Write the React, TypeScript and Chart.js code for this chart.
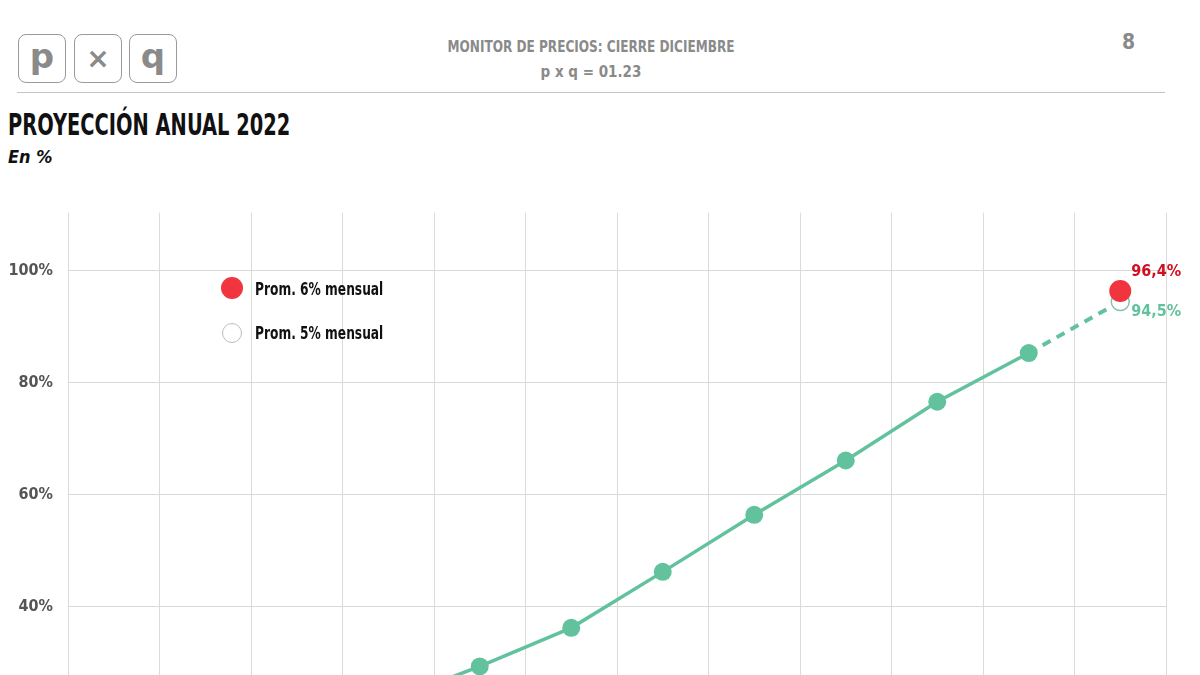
import React, { useEffect, useRef } from "react";
import { Chart, registerables } from "chart.js";

Chart.register(...registerables);

const months = ["Ene", "Feb", "Mar", "Abr", "May", "Jun", "Jul", "Ago", "Sep", "Oct", "Nov", "Dic"];
const actual = [3.9, 8.8, 16.1, 23.1, 29.3, 36.2, 46.2, 56.4, 66.1, 76.6, 85.3, null];
const proj5 = [null, null, null, null, null, null, null, null, null, null, 85.3, 94.5];
const proj6Point = [null, null, null, null, null, null, null, null, null, null, null, 96.4];
const proj5Point = [null, null, null, null, null, null, null, null, null, null, null, 94.5];
const yTicks = [40, 60, 80, 100];
const label6 = "96,4%";
const label5 = "94,5%";
const legendItems = ["Prom. 6% mensual", "Prom. 5% mensual"];

const GREEN = "#62c29d";
const RED = "#f0353f";
const COND = '"DejaVu Sans Condensed", "Liberation Sans Narrow", "DejaVu Sans", sans-serif';

const labelPlugin = {
  id: "endLabels",
  afterDatasetsDraw(chart: any) {
    const ctx = chart.ctx;
    const m6 = chart.getDatasetMeta(0);
    const m5 = chart.getDatasetMeta(1);
    const p6 = m6.data[11];
    const p5 = m5.data[11];
    ctx.save();
    ctx.font = "bold 16px " + COND;
    ctx.textAlign = "left";
    ctx.textBaseline = "middle";
    if (p6) {
      ctx.fillStyle = "#d0101e";
      ctx.fillText(label6, p6.x + 11, p6.y - 19);
    }
    if (p5) {
      ctx.fillStyle = GREEN;
      ctx.fillText(label5, p5.x + 11, p5.y + 10);
    }
    ctx.restore();
  },
};

function ChartBox() {
  const ref = useRef<HTMLCanvasElement>(null);
  useEffect(() => {
    if (!ref.current) return;
    const chart = new Chart(ref.current, {
      type: "line",
      data: {
        labels: months,
        datasets: [
          {
            data: proj6Point,
            borderColor: RED,
            backgroundColor: RED,
            pointRadius: 11,
            pointBorderWidth: 0,
            showLine: false,
            order: 0,
          } as any,
          {
            data: proj5Point,
            borderColor: "#8bbfae",
            backgroundColor: "#ffffff",
            pointRadius: 9,
            pointBorderWidth: 1.5,
            showLine: false,
            order: 1,
          },
          {
            data: proj5,
            borderColor: GREEN,
            borderWidth: 4,
            borderDash: [9, 7],
            pointRadius: 0,
            order: 2,
          },
          {
            data: actual,
            borderColor: GREEN,
            backgroundColor: GREEN,
            borderWidth: 3.5,
            pointRadius: 9,
            pointBorderWidth: 0,
            order: 3,
          },
        ],
      },
      options: {
        animation: false,
        responsive: true,
        maintainAspectRatio: false,
        layout: { padding: { left: 0, right: 34, top: 13, bottom: 0 } },
        plugins: { legend: { display: false }, tooltip: { enabled: false } },
        scales: {
          x: {
            offset: true,
            grid: { offset: true, color: "#dadada", lineWidth: 1, drawTicks: false },
            border: { display: false },
            ticks: { display: false },
            afterFit(scale: any) {
              scale.height = 0;
            },
          },
          y: {
            min: 27.7,
            max: 110.4,
            grid: { color: "#dadada", lineWidth: 1, drawTicks: false },
            border: { display: false },
            afterBuildTicks(scale: any) {
              scale.ticks = yTicks.map((v) => ({ value: v }));
            },
            afterFit(scale: any) {
              scale.width = 68;
            },
            ticks: {
              padding: 15,
              color: "#555555",
              font: { family: COND, size: 16, weight: "bold" },
              callback: (v: any) => v + "%",
            },
          },
        },
      } as any,
      plugins: [labelPlugin],
    });
    return () => chart.destroy();
  }, []);
  return (
    <div style={{ position: "absolute", left: 0, top: 188, width: 1200, height: 512 }}>
      <canvas ref={ref} />
    </div>
  );
}

const boxStyle = (left: number): React.CSSProperties => ({
  position: "absolute",
  left,
  top: 34,
  width: 46,
  height: 47,
  border: "1.5px solid #9a9a9a",
  borderRadius: 8,
  display: "flex",
  alignItems: "center",
  justifyContent: "center",
  color: "#8a8a8a",
  fontFamily: '"DejaVu Sans", sans-serif',
  fontWeight: "bold",
  fontSize: 34,
  lineHeight: 1,
});

const legendText = (top: number): React.CSSProperties => ({
  position: "absolute",
  left: 255,
  top,
  color: "#111",
  fontWeight: "bold",
  fontSize: 17,
  lineHeight: "22px",
  whiteSpace: "nowrap",
  transformOrigin: "left center",
  transform: "scaleX(0.8)",
});

export default function App() {
  return (
    <div
      style={{
        position: "fixed",
        left: 0,
        top: 0,
        width: 1200,
        height: 675,
        background: "#ffffff",
        overflow: "hidden",
        fontFamily: COND,
      }}
    >
      <div style={boxStyle(18)}><span style={{ marginTop: -6 }}>p</span></div>
      <div style={boxStyle(74)}><span style={{ fontSize: 28 }}>×</span></div>
      <div style={boxStyle(129)}><span style={{ marginTop: -6 }}>q</span></div>
      <div
        style={{
          position: "absolute",
          left: 391,
          width: 400,
          top: 37,
          textAlign: "center",
          color: "#8a8a8a",
          fontWeight: "bold",
          fontSize: 16,
          lineHeight: "20px",
          transform: "scaleX(0.84)",
          whiteSpace: "nowrap",
        }}
      >
        MONITOR DE PRECIOS: CIERRE DICIEMBRE
      </div>
      <div
        style={{
          position: "absolute",
          left: 391,
          width: 400,
          top: 62,
          textAlign: "center",
          color: "#8a8a8a",
          fontWeight: "bold",
          fontSize: 15,
          lineHeight: "20px",
        }}
      >
        p x q = 01.23
      </div>
      <div
        style={{
          position: "absolute",
          left: 1122,
          top: 30,
          color: "#8a8a8a",
          fontWeight: "bold",
          fontSize: 21,
          lineHeight: "24px",
        }}
      >
        8
      </div>
      <div style={{ position: "absolute", left: 17, top: 92, width: 1148, height: 1, background: "#c4c4c4" }} />
      <div
        style={{
          position: "absolute",
          left: 8,
          top: 108,
          color: "#111111",
          fontWeight: 900,
          fontSize: 30,
          lineHeight: "34px",
          transformOrigin: "left center",
          transform: "scaleX(0.72)",
          whiteSpace: "nowrap",
        }}
      >
        PROYECCIÓN ANUAL 2022
      </div>
      <div
        style={{
          position: "absolute",
          left: 8,
          top: 145,
          color: "#111111",
          fontWeight: "bold",
          fontStyle: "italic",
          fontSize: 18,
          lineHeight: "24px",
        }}
      >
        En %
      </div>
      <ChartBox />
      <div style={{ position: "absolute", left: 221, top: 277, width: 22, height: 22, borderRadius: "50%", background: RED }} />
      <div
        style={{
          position: "absolute",
          left: 222,
          top: 323,
          width: 18,
          height: 18,
          borderRadius: "50%",
          border: "1.5px solid #bdbdbd",
          background: "#ffffff",
        }}
      />
      <div style={legendText(278)}>{legendItems[0]}</div>
      <div style={legendText(322)}>{legendItems[1]}</div>
    </div>
  );
}
